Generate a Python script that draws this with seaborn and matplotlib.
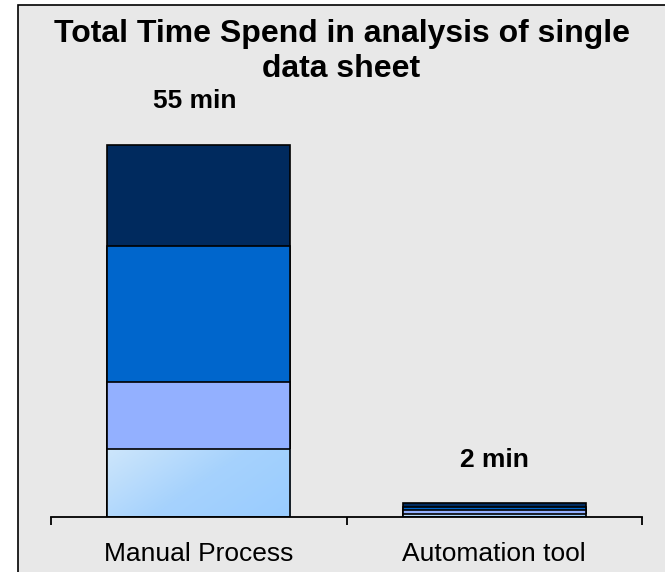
import matplotlib
matplotlib.use("Agg")
import matplotlib.pyplot as plt
import seaborn as sns
import numpy as np
import pandas as pd
from matplotlib.patches import Rectangle
from matplotlib.colors import LinearSegmentedColormap

sns.set_theme(style="white")
plt.rcParams['font.family'] = ['Liberation Sans', 'DejaVu Sans']

# ---- data ----
categories = ["Manual Process", "Automation tool"]
seg_bottom = [10, 0.5]     # light blue
seg_second = [10, 0.5]     # periwinkle
seg_third = [20, 0.5]      # medium blue
seg_top = [15, 0.5]        # navy
total_labels = ["55 min", "2 min"]

segments = [seg_bottom, seg_second, seg_third, seg_top]
colors = ["#A9D3FD", "#93B0FF", "#0066CC", "#002A5E"]

W, H = 665, 572
fig = plt.figure(figsize=(W / 100, H / 100), dpi=100)
fig.patch.set_facecolor("white")

# gray panel with border on left/top
panel = Rectangle((18 / W, -0.02), 1.05, (H - 5) / H + 0.02, transform=fig.transFigure,
                  facecolor="#E8E8E8", edgecolor="black", linewidth=1.2, zorder=-5)
fig.patches.append(panel)

ax_bottom_px = 517
ax_top_px = 60
ax = fig.add_axes([51 / W, (H - ax_bottom_px) / H, (642 - 51) / W, (ax_bottom_px - ax_top_px) / H])
ax.set_facecolor("none")
ax.set_zorder(1)

# stacked bars: draw cumulative totals from top to bottom
cum = np.cumsum(np.array(segments, dtype=float), axis=0)
for i in range(len(segments) - 1, -1, -1):
    df = pd.DataFrame({"cat": categories, "val": cum[i]})
    sns.barplot(data=df, x="cat", y="val", color=colors[i], width=0.62,
                edgecolor="black", linewidth=1.2, saturation=1, ax=ax)

totals = cum[-1]
px_per_min = (ax_bottom_px - 145) / totals[0]
ax.set_ylim(0, (ax_bottom_px - ax_top_px) / px_per_min)
ax.set_xlim(-0.5, 1.5)

# soft gradient on the bottom (light blue) segments
grad_cmap = LinearSegmentedColormap.from_list("lb", ["#CDE6FB", "#A6D2FD", "#99CCFF"])
gx, gy = np.meshgrid(np.linspace(0, 1, 64), np.linspace(0, 1, 64))
grad = np.clip(0.65 * gx + 0.35 * gy, 0, 1)  # lighter at top-left (row 0 = top with origin upper)
for p in ax.patches[-len(categories):]:
    bx, by, bw, bh = p.get_x(), p.get_y(), p.get_width(), p.get_height()
    p.set_facecolor("none")
    p.set_zorder(2)
    im = ax.imshow(grad, cmap=grad_cmap, extent=(bx, bx + bw, by, by + bh), origin="upper",
                   aspect="auto", interpolation="bilinear", zorder=1.5)
    im.set_clip_path(p)
ax.set_xlim(-0.5, 1.5)
ax.set_ylim(0, (ax_bottom_px - ax_top_px) / px_per_min)
ax.set_aspect("auto")

for i, (t, lab) in enumerate(zip(totals, total_labels)):
    ax.annotate(lab, xy=(i, t), xytext=(-3 if i == 0 else 0, 31.5), textcoords="offset points",
                ha="center", va="center", fontsize=19, fontweight="bold", color="black")

for s in ["left", "top", "right"]:
    ax.spines[s].set_visible(False)
ax.spines["bottom"].set_color("black")
ax.spines["bottom"].set_linewidth(1.3)
ax.set_yticks([])
ax.set_xlabel("")
ax.set_ylabel("")
ax.set_xticks([-0.5, 0.5, 1.5])
ax.set_xticklabels([])
ax.tick_params(axis="x", which="major", direction="out", length=5.8, width=1.3, color="black", bottom=True)
ax.set_xticks([0, 1], minor=True)
ax.set_xticklabels(categories, minor=True)
ax.tick_params(axis="x", which="minor", length=0, pad=18, labelsize=19, labelcolor="black")

fig.text(341.5 / W, 1 - 19 / H, "Total Time Spend in analysis of single\ndata sheet",
         ha="center", va="top", fontsize=23, fontweight="bold", linespacing=1.2, color="black")

fig.savefig("out.png", dpi=100, facecolor=fig.get_facecolor())
